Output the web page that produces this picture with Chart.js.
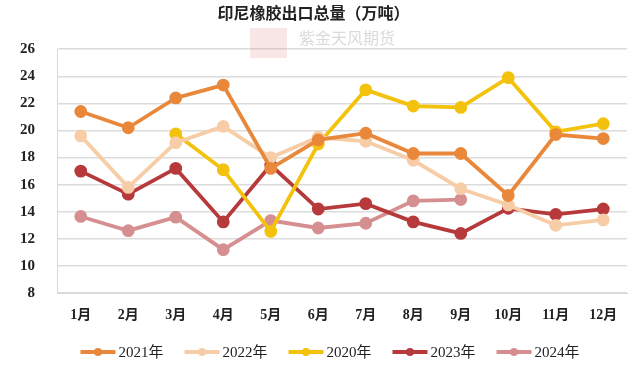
<!DOCTYPE html>
<html>
<head>
<meta charset="utf-8">
<script src="https://cdn.jsdelivr.net/npm/chart.js@4"></script>
<style>
  html, body { margin: 0; padding: 0; background: #fff; }
  #wrap { width: 640px; height: 371px; }
</style>
</head>
<body>
<div id="wrap"><canvas id="chart" width="640" height="371"></canvas></div>
<script>
const months = ['1月', '2月', '3月', '4月', '5月', '6月', '7月', '8月', '9月', '10月', '11月', '12月'];

const y2021 = [21.4, 20.2, 22.4, 23.35, 17.2, 19.3, 19.8, 18.3, 18.3, 15.2, 19.7, 19.4];
const y2022 = [19.6, 15.8, 19.1, 20.3, 18.0, 19.5, 19.2, 17.8, 15.7, 14.5, 13.0, 13.4];
const y2020 = [null, null, 19.75, 17.1, 12.55, 19.0, 23.0, 21.8, 21.7, 23.9, 19.9, 20.5];
const y2023 = [17.0, 15.3, 17.2, 13.25, 17.45, 14.2, 14.6, 13.25, 12.4, 14.25, 13.8, 14.2];
const y2024 = [13.65, 12.6, 13.6, 11.2, 13.35, 12.8, 13.15, 14.8, 14.9, null, null, null];

const series = [
  { label: '2021年', data: y2021, color: '#E9883A' },
  { label: '2022年', data: y2022, color: '#F6CDA6' },
  { label: '2020年', data: y2020, color: '#F2C20C' },
  { label: '2023年', data: y2023, color: '#B63A3C' },
  { label: '2024年', data: y2024, color: '#D68F90' },
];

const legendFont = '15px "Liberation Serif", "Noto Sans CJK SC"';

const watermark = {
  id: 'watermark',
  beforeDatasetsDraw(chart) {
    const ctx = chart.ctx;
    ctx.save();
    ctx.fillStyle = 'rgba(220,120,120,0.18)';
    ctx.fillRect(250, 28, 37, 30);
    ctx.fillStyle = 'rgba(150,150,150,0.35)';
    ctx.font = '16px "Noto Sans CJK SC"';
    ctx.textBaseline = 'middle';
    ctx.fillText('紫金天风期货', 299, 38);
    ctx.restore();
  }
};

// legend with a "line + dot" marker, drawn under the axis
const lineLegend = {
  id: 'lineLegend',
  afterDraw(chart) {
    const ctx = chart.ctx;
    const y = 352;
    ctx.save();
    ctx.font = legendFont;
    const gap = 21, marker = 35, textOff = 38;
    const widths = chart.data.datasets.map(ds => textOff + ctx.measureText(ds.label).width);
    const total = widths.reduce((a, b) => a + b, 0) + gap * (widths.length - 1);
    let x = 330 - total / 2;
    chart.data.datasets.forEach((ds, i) => {
      ctx.strokeStyle = ds.borderColor;
      ctx.lineWidth = 4;
      ctx.beginPath(); ctx.moveTo(x, y); ctx.lineTo(x + marker, y); ctx.stroke();
      ctx.fillStyle = ds.borderColor;
      ctx.beginPath(); ctx.arc(x + marker / 2, y, 4, 0, Math.PI * 2); ctx.fill();
      ctx.fillStyle = '#222';
      ctx.textBaseline = 'middle';
      ctx.fillText(ds.label, x + textOff, y + 1);
      x += widths[i] + gap;
    });
    ctx.restore();
  }
};

new Chart(document.getElementById('chart'), {
  type: 'line',
  data: {
    labels: months,
    datasets: series.map(s => ({
      label: s.label,
      data: s.data,
      borderColor: s.color,
      backgroundColor: s.color,
      pointBackgroundColor: s.color,
      pointBorderColor: s.color,
      borderWidth: 3.8,
      pointRadius: 4.5,
      tension: 0,
      spanGaps: false,
    })),
  },
  options: {
    responsive: false,
    animation: false,
    layout: { padding: { left: 0, right: 13, top: 0, bottom: 38 } },
    plugins: {
      title: {
        display: true,
        text: '印尼橡胶出口总量（万吨）',
        color: '#222',
        font: { family: '"Noto Sans CJK SC"', size: 16, weight: 'bold' },
        padding: { top: 3, bottom: 27 },
      },
      legend: { display: false },
      tooltip: { enabled: false },
    },
    scales: {
      x: {
        offset: true,
        grid: { display: false, drawTicks: false },
        border: { display: true, color: '#d8d8d8' },
        ticks: {
          color: '#222',
          padding: 14,
          font: { family: '"Liberation Serif", "Noto Sans CJK SC"', size: 14, weight: 'bold' },
          maxRotation: 0,
        },
        afterFit(scale) { scale.height = 40; },
      },
      y: {
        min: 8,
        max: 26,
        ticks: {
          stepSize: 2,
          color: '#222',
          padding: 22,
          font: { family: '"Liberation Serif"', size: 15, weight: 'bold' },
        },
        grid: { color: '#dcdcdc', drawTicks: false, lineWidth: 1.5 },
        border: { display: true, color: '#d8d8d8' },
        afterFit(scale) { scale.width = 57; },
      },
    },
  },
  plugins: [watermark, lineLegend],
});
</script>
</body>
</html>
